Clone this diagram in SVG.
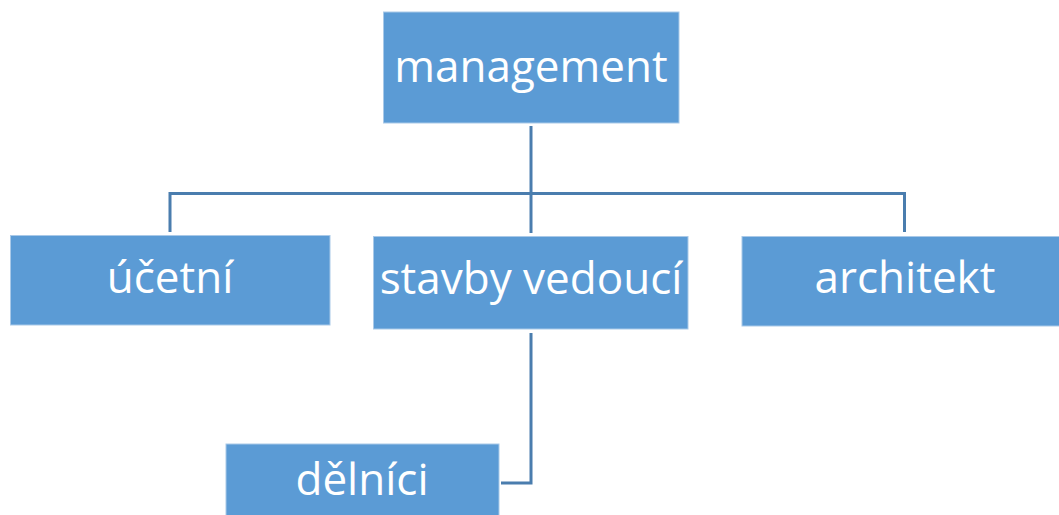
<svg xmlns="http://www.w3.org/2000/svg" width="1059" height="515" viewBox="0 0 1059 515">
<style>
.box{fill:#5b9bd5;stroke:#a9c9e8;stroke-width:1}
.lbl{font-family:"Open Sans","Noto Sans","DejaVu Sans",sans-serif;font-size:44px;fill:#ffffff;text-anchor:middle}
.con{fill:none;stroke:#4a7dae;stroke-width:3}
</style>
<rect width="1059" height="515" fill="#ffffff"/>
<g id="connectors">
<path class="con" d="M531 126 V233"/>
<path class="con" d="M170 232 V193.5 H904.5 V232"/>
<path class="con" d="M531 333 V483 H501"/>
</g>
<g id="management">
<rect class="box" x="383.5" y="12" width="295.5" height="111"/>
<text class="lbl" x="531" y="82">management</text>
</g>
<g id="ucetni">
<rect class="box" x="10.5" y="235.5" width="319.5" height="89.5"/>
<text class="lbl" x="170" y="293">účetní</text>
</g>
<g id="stavby_vedouci">
<rect class="box" x="373.5" y="236.5" width="314.5" height="92.5"/>
<text class="lbl" x="531" y="294">stavby vedoucí</text>
</g>
<g id="architekt">
<rect class="box" x="742" y="236.5" width="318" height="89.5"/>
<text class="lbl" x="905" y="293">architekt</text>
</g>
<g id="delnici">
<rect class="box" x="226" y="444" width="273" height="72"/>
<text class="lbl" x="362" y="495">dělníci</text>
</g>
</svg>
